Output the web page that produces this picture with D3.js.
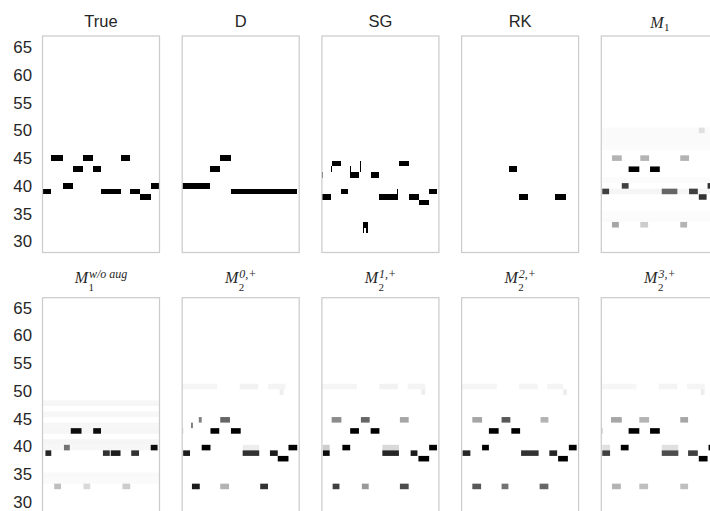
<!DOCTYPE html>
<html>
<head>
<meta charset="utf-8">
<script src="https://cdn.jsdelivr.net/npm/d3@7"></script>
<style>
  body { margin: 0; background: #fff; }
  svg { display: block; }
</style>
</head>
<body>
<div id="chart"></div>
<script>
// pitch ticks on the y axis
const pitchTicks = [30, 35, 40, 45, 50, 55, 60, 65];

// panel titles (base text, subscript, superscript)
const titleBase = ["True", "D", "SG", "RK", "M", "M", "M", "M", "M", "M"];
const titleSub = [null, null, null, null, "1", "1", "2", "2", "2", "2"];
const titleSup = [null, null, null, null, null, "w/o aug", "0,+", "1,+", "2,+", "3,+"];

// notes per panel: [pitch, start step, end step, intensity 0..1]
const notesTrue = [
  [39, 0, 9, 1], [45, 9, 21, 1], [40, 21, 31, 1], [43, 31, 42, 1], [45, 42, 52, 1], [43, 52, 60, 1],
  [39, 60, 80, 1], [45, 80, 90, 1], [39, 90, 100, 1], [38, 100, 111, 1], [40, 111, 120, 1]
];
const notesD = [
  [40, 0, 29, 1], [43, 29, 39, 1], [45, 39, 50, 1], [39, 50, 118, 1]
];
const notesSG = [
  [42, 0, 1, 0.7], [38, 0, 9, 1], [43, 9.5, 10.5, 1], [44, 10, 20, 1], [39, 20, 27, 1],
  [43, 28.5, 30, 1], [42, 28.5, 30, 1], [42, 30, 38, 1], [44, 39, 40.5, 1], [43, 39, 40.5, 1],
  [33, 42, 47, 1], [32, 42, 43.5, 1], [32, 45.5, 47, 1],
  [42, 50, 59, 1], [38, 59, 78, 1], [39, 77, 78.5, 1], [44, 79, 89, 1], [38, 89, 100, 1],
  [37, 100, 110, 1], [39, 110, 118, 1]
];
const notesRK = [
  [43, 49, 57, 1], [38, 59, 68, 1], [38, 96, 107, 1]
];
const notesM1 = [
  [48, 0, 120, 0.02], [49, 0, 120, 0.02], [50, 0, 120, 0.018], [47, 0, 120, 0.015], [41, 0, 120, 0.015],
  [39, 0, 120, 0.04], [35, 0, 120, 0.012], [34, 0, 120, 0.015],
  [39, 1, 8, 0.75], [45, 11, 21, 0.3], [33, 11, 18, 0.35], [40, 21, 28, 0.75], [43, 28, 39, 1],
  [45, 40, 49, 0.3], [33, 40, 48, 0.2], [43, 50, 60, 1], [39, 62, 78, 0.6], [45, 81, 90, 0.3],
  [33, 81, 88, 0.3], [39, 90, 99, 0.75], [38, 100, 108, 0.8], [50, 100, 106, 0.12], [40, 109, 120, 0.8]
];
const notesM1NoAug = [
  [48, 0, 120, 0.035], [46, 0, 120, 0.03], [44, 0, 120, 0.03], [43, 0, 120, 0.035], [41, 0, 120, 0.04],
  [40, 0, 120, 0.03], [35, 0, 120, 0.025], [34, 0, 120, 0.02],
  [39, 3, 9, 0.85], [40, 22, 28, 0.55], [43, 29, 40, 0.95], [43, 52, 60, 0.95], [39, 62, 69, 0.8],
  [39, 70, 80, 0.9], [39, 91, 99, 0.8], [40, 111, 118, 0.95],
  [33, 12, 19, 0.25], [33, 42, 49, 0.15], [33, 82, 90, 0.2]
];
const notesM2_0 = [
  [51, 0, 36, 0.04], [51, 59, 78, 0.05], [51, 88, 106, 0.045], [50, 100, 104, 0.07], [40, 62, 79, 0.07],
  [43, 0, 1, 0.3], [39, 1, 8, 0.9], [44, 9, 11, 0.5], [33, 10, 18, 0.9], [45, 17, 20, 0.5],
  [40, 20, 29, 1], [43, 29, 38, 1], [45, 39, 49, 0.6], [33, 39, 48, 0.3], [43, 50, 60, 1],
  [39, 62, 79, 0.8], [33, 80, 88, 0.8], [39, 90, 98, 0.9], [38, 98, 109, 1], [40, 109, 118, 1]
];
const notesM2_1 = [
  [51, 0, 36, 0.04], [51, 59, 78, 0.05], [51, 88, 106, 0.045], [50, 102, 106, 0.07],
  [39, 1, 8, 0.95], [40, 1, 8, 0.2], [45, 10, 20, 0.45], [33, 11, 18, 0.75], [40, 21, 29, 1],
  [43, 29, 38, 1], [45, 40, 49, 0.6], [33, 41, 48, 0.4], [43, 50, 59, 1], [39, 62, 79, 0.85],
  [40, 62, 79, 0.15], [45, 80, 89, 0.35], [33, 80, 89, 0.7], [39, 91, 98, 0.9], [38, 99, 110, 1],
  [40, 110, 118, 1]
];
const notesM2_2 = [
  [51, 0, 36, 0.035], [51, 59, 78, 0.045], [51, 88, 104, 0.045], [50, 104, 108, 0.07],
  [39, 1, 9, 0.85], [45, 11, 21, 0.35], [33, 11, 20, 0.65], [40, 21, 28, 1], [43, 28, 38, 1],
  [45, 41, 50, 0.65], [33, 41, 48, 0.55], [43, 51, 60, 1], [39, 61, 79, 0.8], [45, 81, 89, 0.3],
  [33, 80, 89, 0.6], [39, 90, 98, 0.85], [38, 99, 109, 1], [40, 110, 118, 1]
];
const notesM2_3 = [
  [51, 0, 36, 0.035], [51, 59, 78, 0.045], [51, 88, 106, 0.04], [50, 102, 106, 0.07],
  [43, 0, 1, 0.5], [39, 1, 9, 0.75], [40, 1, 9, 0.12], [45, 10, 21, 0.35], [33, 11, 20, 0.3],
  [40, 20, 28, 1], [43, 28, 39, 1], [45, 39, 49, 0.3], [33, 39, 48, 0.25], [43, 50, 60, 1],
  [39, 62, 79, 0.7], [40, 62, 79, 0.12], [45, 81, 89, 0.35], [33, 81, 89, 0.25], [39, 89, 99, 0.75],
  [38, 100, 109, 1], [40, 110, 120, 1]
];

const panelNotes = [notesTrue, notesD, notesSG, notesRK, notesM1,
                    notesM1NoAug, notesM2_0, notesM2_1, notesM2_2, notesM2_3];

function drawPianoRolls() {
    const width = 710, height = 511;
    const panelW = 117, panelH = 216.5;
    const colLeft = d3.range(5).map(i => 42.5 + i * 139.7);
    const rowTop = [36, 297.7];
    const textColor = "#262626";

    const svg = d3.select("#chart").append("svg")
        .attr("width", width)
        .attr("height", height);

    const defs = svg.append("defs");
    defs.append("filter")
        .attr("id", "soft")
        .attr("x", "-5%").attr("y", "-5%").attr("width", "110%").attr("height", "110%")
        .append("feGaussianBlur")
        .attr("stdDeviation", 0.45);

    // scales shared by all panels
    const x = d3.scaleLinear().domain([0, 120]).range([0, panelW]);
    const y = d3.scaleLinear().domain([67, 28]).range([0, panelH]);
    const color = d3.scaleLinear().domain([0, 1]).range(["#ffffff", "#000000"]).clamp(true);

    panelNotes.forEach((notes, i) => {
        const row = Math.floor(i / 5), col = i % 5;
        const g = svg.append("g")
            .attr("transform", `translate(${colLeft[col]},${rowTop[row]})`);

        defs.append("clipPath")
            .attr("id", `clip-${i}`)
            .append("rect")
            .attr("width", panelW)
            .attr("height", panelH);

        const cells = g.append("g")
            .attr("clip-path", `url(#clip-${i})`)
            .append("g")
            .attr("filter", i >= 4 ? "url(#soft)" : null);

        cells.selectAll("rect")
            .data(notes.slice().sort((a, b) => a[3] - b[3]))
            .join("rect")
            .attr("x", d => x(d[1]))
            .attr("width", d => x(d[2]) - x(d[1]))
            .attr("y", d => y(d[0] + 0.5))
            .attr("height", d => y(d[0] - 0.5) - y(d[0] + 0.5))
            .attr("fill", d => color(d[3]))
            .attr("shape-rendering", i >= 4 ? null : "crispEdges");

        // frame
        g.append("rect")
            .attr("width", panelW)
            .attr("height", panelH)
            .attr("fill", "none")
            .attr("stroke", "#cccccc")
            .attr("stroke-width", 1.25);

        // y axis labels on the first column only
        if (col === 0) {
            const axis = d3.axisLeft(y).tickValues(pitchTicks).tickSize(0).tickPadding(10.5);
            const ag = g.append("g").call(axis);
            ag.select(".domain").remove();
            ag.selectAll("text")
                .attr("dy", row === 1 ? "0.25em" : "0.32em")
                .style("font-family", "'Liberation Sans', Arial, sans-serif")
                .style("font-size", "16.8px")
                .attr("fill", textColor);
        }

        // title
        const cx = panelW / 2;
        if (!titleSub[i]) {
            g.append("text")
                .attr("x", cx)
                .attr("y", -9.5)
                .attr("text-anchor", "middle")
                .style("font-family", "'Liberation Sans', Arial, sans-serif")
                .style("font-size", "16.5px")
                .attr("fill", textColor)
                .text(titleBase[i]);
        } else {
            const hasSup = !!titleSup[i];
            const tg = g.append("g");
            const baseY = hasSup ? -14.4 : -7.7;
            const serif = "'Liberation Serif', 'DejaVu Serif', serif";
            const base = tg.append("text")
                .attr("x", 0).attr("y", baseY)
                .style("font-family", serif)
                .style("font-style", "italic")
                .style("font-size", "16px")
                .attr("fill", textColor)
                .text(titleBase[i]);
            const bw = base.node().getComputedTextLength() + 0.5;
            const sub = tg.append("text")
                .attr("x", bw).attr("y", hasSup ? -6.7 : -5.2)
                .style("font-family", serif)
                .style("font-size", "11px")
                .attr("fill", textColor)
                .text(titleSub[i]);
            let w = bw + sub.node().getComputedTextLength();
            if (hasSup) {
                const sup = tg.append("text")
                    .attr("x", bw + 0.5).attr("y", baseY - 5.5)
                    .style("font-family", serif)
                    .style("font-style", "italic")
                    .style("font-size", "12px")
                    .attr("fill", textColor)
                    .text(titleSup[i]);
                w = Math.max(w, bw + 0.5 + sup.node().getComputedTextLength());
            }
            tg.attr("transform", `translate(${cx - w / 2},0)`);
        }
    });
}

document.addEventListener("DOMContentLoaded", drawPianoRolls);
</script>
</body>
</html>
